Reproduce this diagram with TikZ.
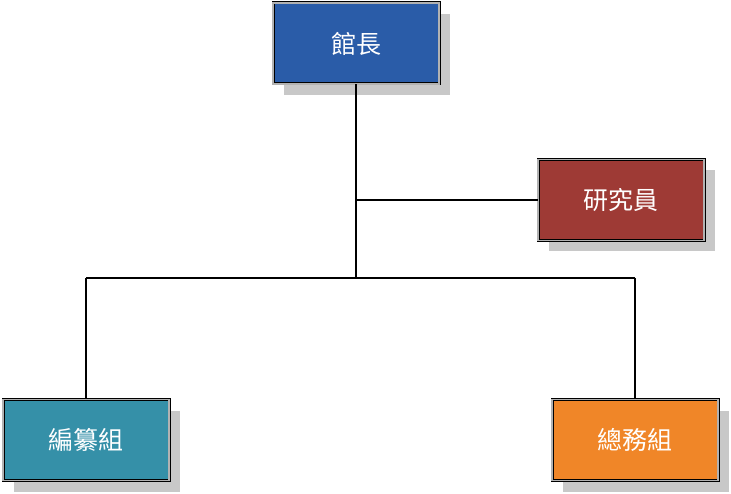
\documentclass[tikz,border=0pt]{standalone}
\usepackage{fontspec}
\newfontfamily\cjk{Noto Sans CJK TC}
\usetikzlibrary{shadows}
\definecolor{cblue}{HTML}{2A5CA8}
\definecolor{cred}{HTML}{9E3A35}
\definecolor{cteal}{HTML}{3590A8}
\definecolor{corange}{HTML}{F08628}
\definecolor{cshadow}{HTML}{C8C8C8}
\tikzset{
  orgbox/.style={draw=black, double=gray!60, double distance=1.2pt, line width=0.9pt,
    minimum width=166pt, minimum height=81pt, inner sep=0pt,
    text=white, font=\cjk\fontsize{25}{25}\selectfont,
    drop shadow={shadow xshift=11pt, shadow yshift=-11pt, fill=cshadow, opacity=1}},
  link/.style={draw=black, line width=2.2pt}
}
\begin{document}
\begin{tikzpicture}[x=1pt,y=-1pt]
\useasboundingbox (0,0) rectangle (731,494);
\node[orgbox, fill=cblue] (head) at (356,43.5) {館長};
\node[orgbox, fill=cred] (res) at (621,200) {研究員};
\node[orgbox, fill=cteal] (edit) at (86,440) {編纂組};
\node[orgbox, fill=corange] (gen) at (635,440) {總務組};
\coordinate (j1) at (356,200);
\coordinate (j2) at (356,278);
\coordinate (l) at (86,278);
\coordinate (r) at (635,278);
\draw[link] (head.south) -- (j2);
\draw[link] (j1) -- (res.west);
\draw[link] (l) -- (r);
\draw[link] (l) -- (edit.north);
\draw[link] (r) -- (gen.north);
\end{tikzpicture}
\end{document}
